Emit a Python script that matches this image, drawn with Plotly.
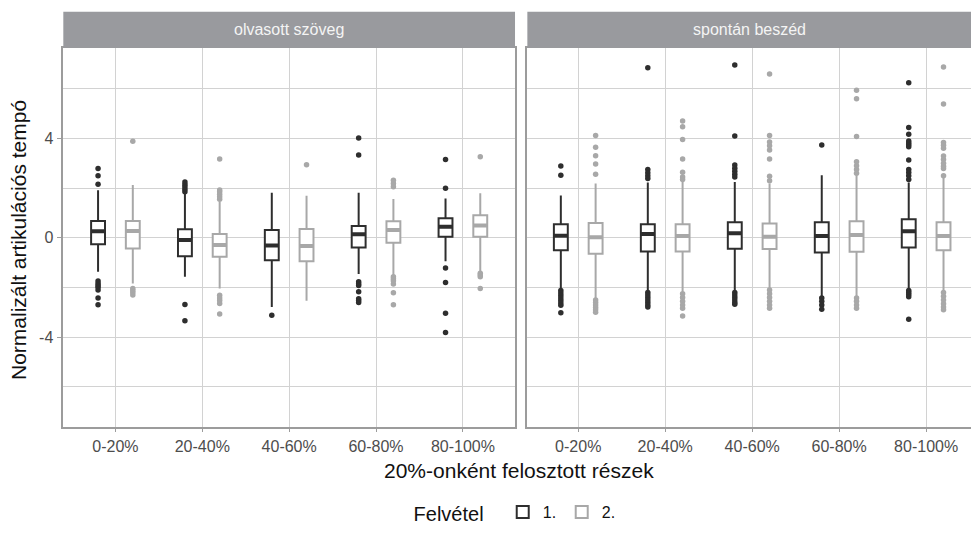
import plotly.graph_objects as go

# Normalised articulation tempo by 20% segments, two recordings, two speech styles
categories = ["0-20%", "20-40%", "40-60%", "60-80%", "80-100%"]
panels = ["olvasott szöveg", "spontán beszéd"]
series_names = ["1.", "2."]
series_colors = ["#2e2e2e", "#a8a8a8"]

# olvasott szöveg, Felvétel 1.
read1_q1 = [-0.26, -0.74, -0.90, -0.39, 0.04]
read1_med = [0.26, -0.09, -0.31, 0.14, 0.44]
read1_q3 = [0.68, 0.34, 0.31, 0.48, 0.79]
read1_lo = [-1.37, -1.57, -2.78, -1.46, -0.94]
read1_hi = [1.91, 1.76, 1.81, 1.81, 1.58]
read1_out = [
    [2.79, 2.50, 2.16, -1.74, -1.84, -1.92, -1.99, -2.10, -2.42, -2.69],
    [1.85, 1.95, 2.05, 2.15, 2.25, -2.68, -3.34],
    [-3.12],
    [4.02, 3.33, -1.77, -1.85, -1.92, -2.17, -2.45, -2.52, -2.60],
    [3.15, 1.99, -1.21, -1.80, -3.04, -3.81],
]

# olvasott szöveg, Felvétel 2.
read2_q1 = [-0.43, -0.76, -0.94, -0.20, 0.04]
read2_med = [0.27, -0.29, -0.33, 0.31, 0.50]
read2_q3 = [0.68, 0.15, 0.35, 0.67, 0.91]
read2_lo = [-1.84, -2.04, -2.53, -1.54, -1.37]
read2_hi = [2.12, 1.45, 1.69, 1.56, 1.79]
read2_out = [
    [3.89, -2.04, -2.12, -2.20, -2.30],
    [3.17, 1.55, 1.65, 1.75, 1.85, 1.92, -2.31, -2.42, -2.52, -2.64, -3.07],
    [2.94],
    [2.32, 2.19, 2.05, -1.57, -1.65, -1.73, -1.86, -2.21, -2.69],
    [3.26, -1.43, -1.50, -1.57, -2.04],
]

# spontán beszéd, Felvétel 1.
spont1_q1 = [-0.50, -0.55, -0.44, -0.59, -0.39]
spont1_med = [0.08, 0.15, 0.18, 0.07, 0.26]
spont1_q3 = [0.55, 0.55, 0.63, 0.63, 0.75]
spont1_lo = [-2.08, -2.17, -2.17, -2.37, -2.08]
spont1_hi = [1.70, 2.23, 2.25, 2.52, 2.23]
spont1_out = [
    [2.89, 2.52, -2.12, -2.22, -2.32, -2.42, -2.52, -2.62, -2.71, -3.02],
    [6.84, 2.75, 2.62, 2.50, 2.39, -2.20, -2.30, -2.40, -2.50, -2.60, -2.70, -2.78],
    [6.95, 4.10, 2.93, 2.80, 2.68, 2.56, 2.45, -2.20, -2.30, -2.40, -2.50, -2.60, -2.67],
    [3.73, -2.42, -2.55, -2.70, -2.87],
    [6.24, 4.44, 4.17, 3.90, 3.82, 3.74, 3.66, 3.13, 2.75, 2.63, 2.50, 2.35,
     -2.12, -2.20, -2.28, -2.37, -3.28],
]

# spontán beszéd, Felvétel 2.
spont2_q1 = [-0.64, -0.55, -0.45, -0.56, -0.50]
spont2_med = [0.02, 0.07, 0.04, 0.11, 0.07]
spont2_q3 = [0.60, 0.55, 0.58, 0.67, 0.63]
spont2_lo = [-2.44, -2.17, -2.07, -2.37, -2.17]
spont2_hi = [2.19, 2.25, 2.19, 2.52, 2.45]
spont2_out = [
    [4.12, 3.64, 3.30, 2.97, 2.56, -2.50, -2.60, -2.70, -2.80, -2.90, -3.00],
    [4.70, 4.47, 3.96, 3.17, 2.64, 2.45, 2.35, -2.25, -2.40, -2.55, -2.70, -2.83, -3.15],
    [6.59, 4.12, 3.86, 3.70, 3.53, 3.17, 2.48, 2.30, -2.10, -2.25, -2.40, -2.55, -2.70, -2.83],
    [5.94, 5.60, 4.08, 3.06, 2.90, 2.75, 2.60, -2.42, -2.55, -2.70, -2.83],
    [6.87, 5.38, 3.84, 3.72, 3.60, 3.29, 3.15, 3.00, 2.88, 2.79, 2.50,
     -2.20, -2.35, -2.50, -2.65, -2.78, -2.90],
]

y_ticks = [-4, 0, 4]
y_minor = [-6, -2, 2, 6]

stats = [
    [(read1_q1, read1_med, read1_q3, read1_lo, read1_hi, read1_out),
     (read2_q1, read2_med, read2_q3, read2_lo, read2_hi, read2_out)],
    [(spont1_q1, spont1_med, spont1_q3, spont1_lo, spont1_hi, spont1_out),
     (spont2_q1, spont2_med, spont2_q3, spont2_lo, spont2_hi, spont2_out)],
]

FONT = "Liberation Sans, Arial, sans-serif"
GRID = "#d2d2d2"
BORDER = "#9c9c9c"
TICKTXT = "#4d4d4d"

fig = go.Figure()

for p, panel_stats in enumerate(stats):
    xa = "x" if p == 0 else "x2"
    ya = "y" if p == 0 else "y2"
    for s, (q1, med, q3, lo, hi, outs) in enumerate(panel_stats):
        col = series_colors[s]
        grp = str(s + 1)
        # box with whiskers
        fig.add_trace(go.Box(
            x=categories, q1=q1, median=med, q3=q3, lowerfence=lo, upperfence=hi,
            name=series_names[s], legendgroup=grp, showlegend=(p == 0),
            offsetgroup=grp, alignmentgroup="a%d" % p,
            boxpoints=False, fillcolor="white", whiskerwidth=0,
            line=dict(color=col, width=2), xaxis=xa, yaxis=ya, hoverinfo="skip",
        ))
        # heavier median bar
        fig.add_trace(go.Box(
            x=categories, q1=med, median=med, q3=med, lowerfence=med, upperfence=med,
            name=series_names[s], legendgroup=grp, showlegend=False,
            offsetgroup=grp, alignmentgroup="a%d" % p,
            boxpoints=False, fillcolor="white", whiskerwidth=0,
            line=dict(color=col, width=4), xaxis=xa, yaxis=ya, hoverinfo="skip",
        ))
    for s, (q1, med, q3, lo, hi, outs) in enumerate(panel_stats):
        col = series_colors[s]
        grp = str(s + 1)
        ox, oy = [], []
        for cat, vals in zip(categories, outs):
            ox += [cat] * len(vals)
            oy += vals
        fig.add_trace(go.Scatter(
            x=ox, y=oy, mode="markers", name=series_names[s], legendgroup=grp,
            showlegend=False, offsetgroup=grp, alignmentgroup="s%d" % p,
            marker=dict(color=col, size=5.5), xaxis=xa, yaxis=ya, hoverinfo="skip",
        ))

y_dom = [0.2084, 0.9115]
x_dom1 = [0.0652, 0.5304]
x_dom2 = [0.5431, 1.0]

common_x = dict(
    type="category", categoryorder="array", categoryarray=categories,
    showgrid=True, gridcolor=GRID, gridwidth=1.3,
    ticks="outside", ticklen=4, tickcolor=BORDER, tickwidth=1.2,
    tickfont=dict(family=FONT, size=16, color=TICKTXT),
    showline=True, linecolor=BORDER, linewidth=1.5, mirror=True,
    zeroline=False, automargin=False, fixedrange=True,
)
common_y = dict(
    range=[-7.6, 7.65], tickvals=y_ticks, ticktext=[str(v) for v in y_ticks],
    showgrid=True, gridcolor=GRID, gridwidth=1.3, zeroline=False,
    minor=dict(tickvals=y_minor, showgrid=True, gridcolor=GRID, gridwidth=1.3, ticks=""),
    showline=True, linecolor=BORDER, linewidth=1.5,
    automargin=False, fixedrange=True,
)

fig.update_layout(
    width=971, height=539,
    margin=dict(l=0, r=0, t=0, b=0),
    paper_bgcolor="white", plot_bgcolor="white",
    boxmode="group", boxgap=0.2, boxgroupgap=0.6,
    scattermode="group", scattergap=0.2,
    xaxis=dict(domain=x_dom1, range=[-0.6, 4.6], anchor="y", **common_x),
    xaxis2=dict(domain=x_dom2, range=[-0.585, 4.516], anchor="y2", **common_x),
    yaxis=dict(domain=y_dom, anchor="x", mirror=True, ticks="outside", ticklen=5,
               tickcolor=BORDER, tickwidth=1.2,
               tickfont=dict(family=FONT, size=16, color=TICKTXT), **common_y),
    yaxis2=dict(domain=y_dom, anchor="x2", matches="y", showticklabels=False,
                ticks="", mirror=False, **common_y),
    legend=dict(
        orientation="h", x=0.532, xanchor="center", y=1 - 513 / 539, yanchor="middle",
        title=dict(text="Felvétel  ", font=dict(family=FONT, size=20, color="#111111")),
        font=dict(family=FONT, size=16, color="#111111"),
        itemwidth=30, traceorder="normal", entrywidth=14, entrywidthmode="pixels",
    ),
    font=dict(family=FONT),
)

# facet strips
strip_bottom, strip_top = y_dom[1], 0.978
for dom, label in zip([x_dom1, x_dom2], panels):
    fig.add_shape(type="rect", xref="paper", yref="paper",
                  x0=dom[0], x1=dom[1], y0=strip_bottom, y1=strip_top,
                  fillcolor="#999a9e", line=dict(width=0), layer="above")
    fig.add_annotation(text=label, xref="paper", yref="paper",
                       x=(dom[0] + dom[1]) / 2, y=(strip_bottom + strip_top) / 2,
                       xanchor="center", yanchor="middle", showarrow=False,
                       font=dict(family=FONT, size=16, color="#f4f4f4"))

# axis titles
fig.add_annotation(text="Normalizált artikulációs tempó", xref="paper", yref="paper",
                   x=18 / 971, y=1 - 240 / 539, textangle=-90, showarrow=False,
                   xanchor="center", yanchor="middle",
                   font=dict(family=FONT, size=21, color="#111111"))
fig.add_annotation(text="20%-onként felosztott részek", xref="paper", yref="paper",
                   x=519 / 971, y=1 - 470 / 539, showarrow=False,
                   xanchor="center", yanchor="middle",
                   font=dict(family=FONT, size=21, color="#111111"))

fig.write_html("out.html")
